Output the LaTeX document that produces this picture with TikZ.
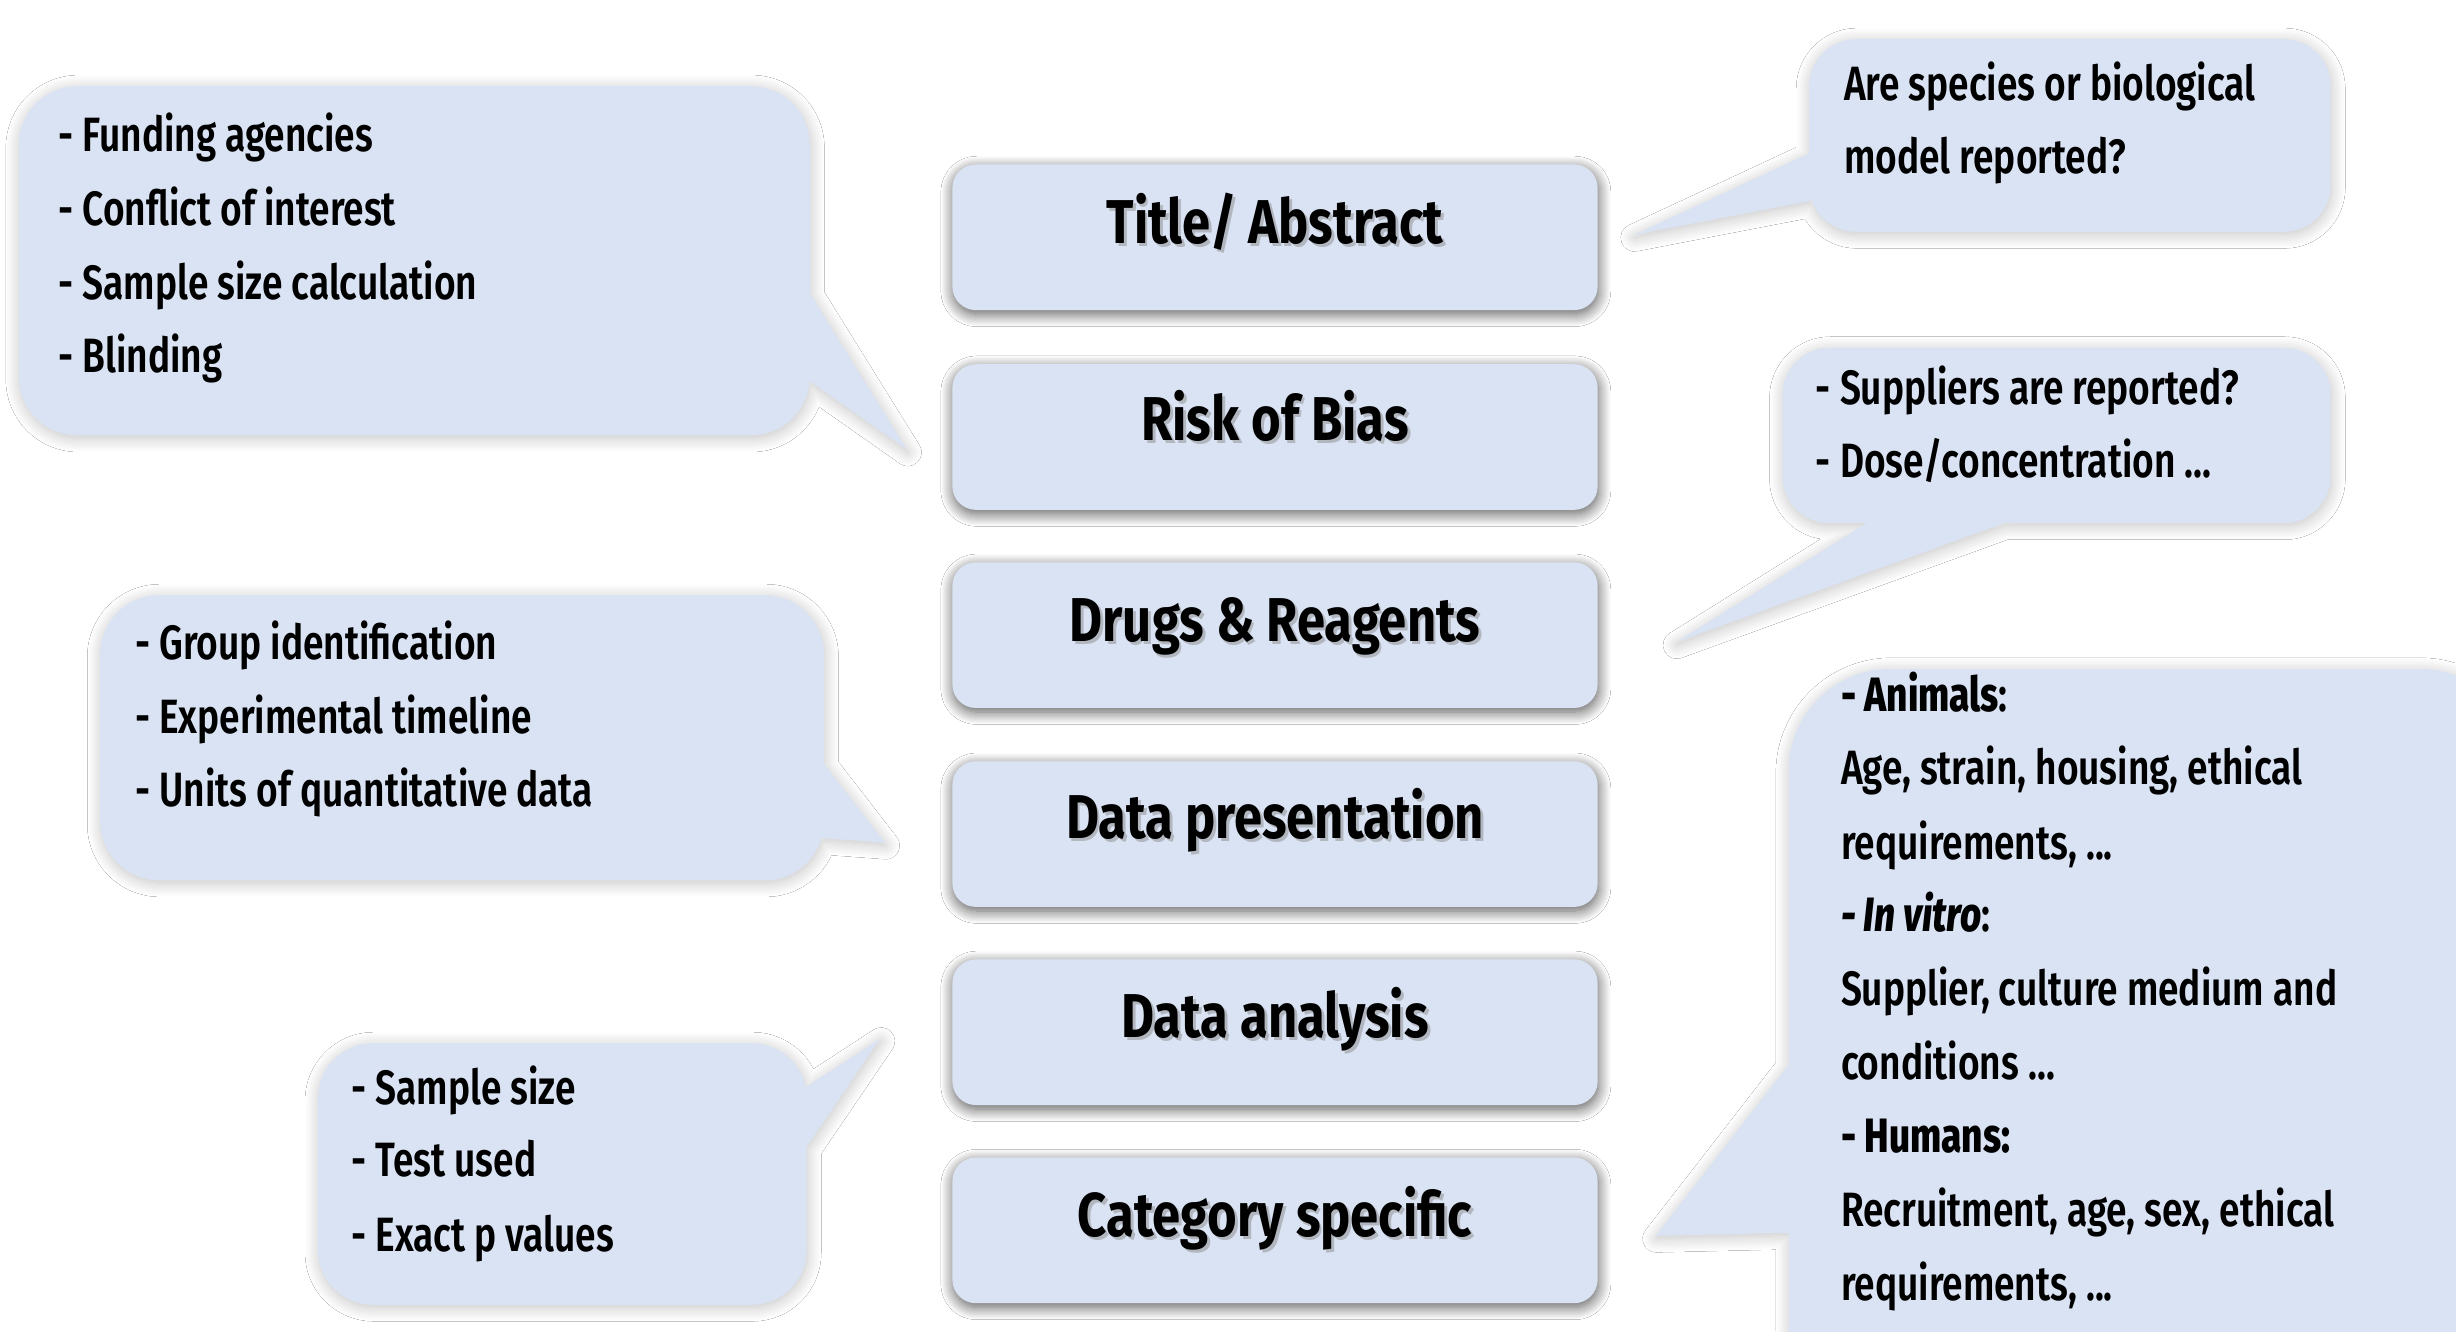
\documentclass[tikz,border=0pt]{standalone}
\usepackage{fontspec}
\setmainfont{Fira Sans}[FakeStretch=0.82, UprightFont={* Medium}, ItalicFont={* Medium Italic}, BoldFont={* Bold}, BoldItalicFont={* Bold Italic}]
\newfontfamily\notefont{Fira Sans}[FakeStretch=0.77, UprightFont={* SemiBold}, ItalicFont={* SemiBold Italic}, BoldFont={* ExtraBold}, BoldItalicFont={* ExtraBold Italic}]
\usetikzlibrary{shadows.blur}
\definecolor{panel}{RGB}{218,227,243}
\begin{document}
\begin{tikzpicture}[x=0.02cm,y=-0.02cm,
  bubble/.style={fill=panel, blur shadow={shadow xshift=0.3pt, shadow yshift=-1pt, shadow blur radius=5pt, shadow blur steps=12, shadow opacity=24}},
  stage/.style={fill=panel, rounded corners=0.3cm, minimum width=8.24cm, minimum height=1.86cm, inner sep=0pt,
    blur shadow={shadow xshift=0.3pt, shadow yshift=-1.5pt, shadow blur radius=4.5pt, shadow blur steps=12, shadow opacity=65}},
  stagelabel/.style={anchor=base, inner sep=0pt, font=\fontsize{22.5}{27}\selectfont\bfseries},
  stageshade/.style={stagelabel, text=black!45, opacity=0.5},
  note/.style={anchor=base west, inner sep=0pt, font=\notefont\fontsize{17.5}{21}\selectfont}]

\useasboundingbox (0,0) rectangle (1568,850);
\fill[white] (0,0) rectangle (1568,850);

% speech bubbles: rounded body plus a sharp tail in one filled path
\path[bubble] [rounded corners=0.75cm] (260,55) -- (517,55) -- (517,278) -- (12,278) -- (12,55) -- cycle
  [sharp corners] (515,184) -- (579,287) -- (515,242) -- cycle;
\path[bubble] [rounded corners=0.6cm] (1320,25) -- (1488,25) -- (1488,148) -- (1155,148) -- (1155,25) -- cycle
  [sharp corners] (1157,128) -- (1043,150) -- (1157,97) -- cycle;
\path[bubble] [rounded corners=0.6cm] (1310,222) -- (1488,222) -- (1488,334) -- (1138,334) -- (1138,222) -- cycle
  [sharp corners] (1285,332) -- (1070,410) -- (1195,332) -- cycle;
\path[bubble] [rounded corners=0.75cm] (300,380) -- (526,380) -- (526,562) -- (64,562) -- (64,380) -- cycle
  [sharp corners] (524,485) -- (565,538) -- (524,535) -- cycle;
\path[bubble] [rounded corners=0.7cm] (360,666) -- (515,666) -- (515,833) -- (203,833) -- (203,666) -- cycle
  [sharp corners] (513,695) -- (562,663) -- (513,735) -- cycle;
\path[bubble] [rounded corners=1.3cm] (1380,427) -- (1610,427) -- (1610,920) -- (1142,920) -- (1142,427) -- cycle
  [sharp corners] (1144,787) -- (1057,789) -- (1144,677) -- cycle;

% checklist stages
\node[stage] (s1) at (814,151.5) {};
\node[stage] (s2) at (814,279) {};
\node[stage] (s3) at (814,405.5) {};
\node[stage] (s4) at (814,532.5) {};
\node[stage] (s5) at (814,659) {};
\node[stage] (s6) at (814,785.5) {};

\foreach \nm/\yy/\txt in {t1/155.5/{Title/ Abstract}, t2/281.5/{Risk of Bias}, t3/409.5/{Drugs \& Reagents},
    t4/535.5/{Data presentation}, t5/662.5/{Data analysis}, t6/789.5/{Category specific}}{
  \node[stageshade] (\nm-shade) at (815.8,\yy+1.8) {\txt};
  \node[stagelabel] (\nm) at (814,\yy) {\txt};
}

% bubble texts
\node[note] (a1) at (37,97) {- Funding agencies};
\node[note] (a2) at (37,144) {- Conflict of interest};
\node[note] (a3) at (37,191) {- Sample size calculation};
\node[note] (a4) at (37,238) {- Blinding};

\node[note] (b1) at (1177,64) {Are species or biological};
\node[note] (b2) at (1177,111) {model reported?};

\node[note] (c1) at (1159,258) {- Suppliers are reported?};
\node[note] (c2) at (1159,305) {- Dose/concentration ...};

\node[note] (d1) at (86,421) {- Group identification};
\node[note] (d2) at (86,468) {- Experimental timeline};
\node[note] (d3) at (86,515) {- Units of quantitative data};

\node[note] (e1) at (224,705) {- Sample size};
\node[note] (e2) at (224,751) {- Test used};
\node[note] (e3) at (224,799) {- Exact p values};

\node[note] (f1) at (1175,454) {\textbf{- Animals}:};
\node[note] (f2) at (1175,501) {Age, strain, housing, ethical};
\node[note] (f3) at (1175,549) {requirements, ...};
\node[note] (f4) at (1175,595) {\textbf{\textit{- In vitro}}:};
\node[note] (f5) at (1175,642) {Supplier, culture medium and};
\node[note] (f6) at (1175,689) {conditions ...};
\node[note] (f7) at (1175,736) {\textbf{- Humans:}};
\node[note] (f8) at (1175,783) {Recruitment, age, sex, ethical};
\node[note] (f9) at (1175,830) {requirements, ...};
\end{tikzpicture}
\end{document}
